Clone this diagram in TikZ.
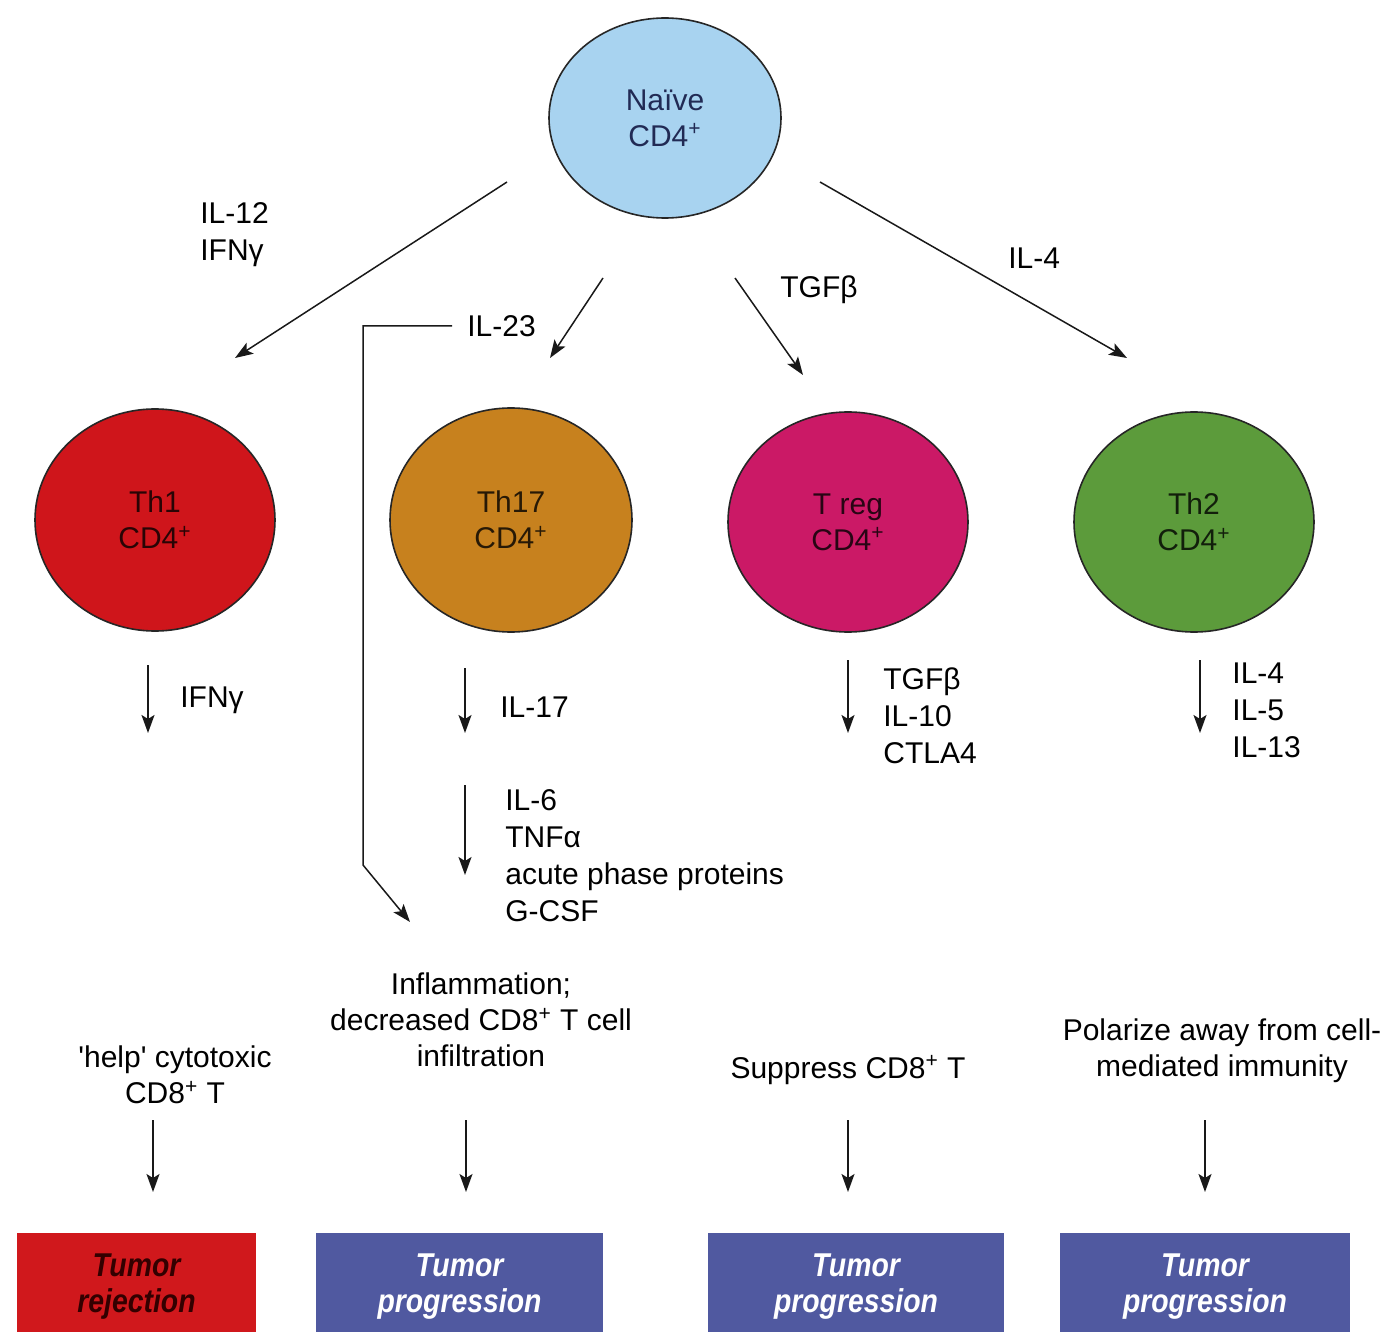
\documentclass[tikz,border=0pt]{standalone}
\usepackage{fontspec}
\setmainfont{Liberation Sans}
\newfontfamily\boxfont[FakeStretch=0.86]{Liberation Sans}
\usetikzlibrary{shapes.geometric,arrows.meta}
\definecolor{naiveblue}{HTML}{A8D3F0}
\definecolor{thonered}{HTML}{CF151B}
\definecolor{thseventeen}{HTML}{C7811E}
\definecolor{tregpink}{HTML}{CB1966}
\definecolor{thtwogreen}{HTML}{5C9B3B}
\definecolor{boxblue}{HTML}{5059A0}
\definecolor{boxred}{HTML}{D0181C}
\begin{document}
\begin{tikzpicture}[x=0.5pt,y=-0.5pt,
  cell/.style={ellipse, draw=black!85, line width=0.8pt, inner sep=0pt, align=center,
    font=\fontsize{15}{18}\selectfont, text opacity=0.8},
  lab/.style={font=\fontsize{15}{18.5}\selectfont, align=left, inner sep=0pt, anchor=west},
  clab/.style={font=\fontsize{15}{18}\selectfont, align=center, inner sep=0pt},
  arr/.style={-{Stealth[length=9pt,width=6.5pt,inset=2pt]}, line width=0.75pt, draw=black!90},
  outbox/.style={rectangle, inner sep=0pt, align=center, minimum height=54pt,
    font=\boxfont\fontsize{16.5}{18}\selectfont\bfseries\itshape}
]
\useasboundingbox (0,0) rectangle (1388,1332);
\fill[white] (0,0) rectangle (1388,1332);

% cells
\node[cell, fill=naiveblue, text=black!70!blue!60!black, minimum width=116pt, minimum height=100pt] (naive) at (665,118) {Naïve\\CD4\textsuperscript{+}};
\node[cell, fill=thonered, minimum width=120pt, minimum height=111pt] (th1) at (155,520) {Th1\\CD4\textsuperscript{+}};
\node[cell, fill=thseventeen, minimum width=121pt, minimum height=112pt] (th17) at (511,520) {Th17\\CD4\textsuperscript{+}};
\node[cell, fill=tregpink, minimum width=120pt, minimum height=110pt] (treg) at (848,522) {T reg\\CD4\textsuperscript{+}};
\node[cell, fill=thtwogreen, minimum width=120pt, minimum height=110pt] (th2) at (1194,522) {Th2\\CD4\textsuperscript{+}};

% arrow end points
\coordinate (a1s) at (507,182); \coordinate (a1e) at (235,358);
\coordinate (a2s) at (603,278); \coordinate (a2e) at (550,358);
\coordinate (a3s) at (735,278); \coordinate (a3e) at (803,375);
\coordinate (a4s) at (820,182); \coordinate (a4e) at (1127,358);
\coordinate (il23s) at (452,326); \coordinate (il23c) at (363,865); \coordinate (il23e) at (410,922);

\draw[arr] (a1s) -- (a1e);
\draw[arr] (a2s) -- (a2e);
\draw[arr] (a3s) -- (a3e);
\draw[arr] (a4s) -- (a4e);
\draw[arr] (il23s) -| (il23c) -- (il23e);

% top labels
\node[lab] (lil12) at (200,235) {IL-12\\IFNγ};
\node[lab] (lil23) at (467,326) {IL-23};
\node[lab] (ltgf) at (780,290) {TGFβ};
\node[lab] (lil4) at (1008,258) {IL-4};

% cytokine arrows
\coordinate (b1s) at (148,665); \coordinate (b1e) at (148,733);
\coordinate (b2s) at (465,668); \coordinate (b2e) at (465,733);
\coordinate (b3s) at (465,785); \coordinate (b3e) at (465,875);
\coordinate (b4s) at (848,660); \coordinate (b4e) at (848,733);
\coordinate (b5s) at (1200,660); \coordinate (b5e) at (1200,733);
\draw[arr] (b1s) -- (b1e);
\draw[arr] (b2s) -- (b2e);
\draw[arr] (b3s) -- (b3e);
\draw[arr] (b4s) -- (b4e);
\draw[arr] (b5s) -- (b5e);

\node[lab] (lifn) at (180,700) {IFNγ};
\node[lab] (lil17) at (500,707) {IL-17};
\node[lab] (lil6) at (505,856) {IL-6\\TNFα\\acute phase proteins\\G-CSF};
\node[lab] (ltreg) at (883,716) {TGFβ\\IL-10\\CTLA4};
\node[lab] (lth2) at (1232,710) {IL-4\\IL-5\\IL-13};

% outcomes
\node[clab] (ohelp) at (175,1075) {\textquotesingle help\textquotesingle\ cytotoxic\\CD8\textsuperscript{+} T};
\node[clab] (oinfl) at (481,1020) {Inflammation;\\decreased CD8\textsuperscript{+} T cell\\infiltration};
\node[clab] (osupp) at (848,1070) {Suppress CD8\textsuperscript{+} T};
\node[clab] (opol) at (1222,1051) {Polarize away from cell-\\mediated immunity};

\coordinate (c1s) at (153,1120); \coordinate (c1e) at (153,1192);
\coordinate (c2s) at (466,1120); \coordinate (c2e) at (466,1192);
\coordinate (c3s) at (848,1120); \coordinate (c3e) at (848,1192);
\coordinate (c4s) at (1205,1120); \coordinate (c4e) at (1205,1192);
\draw[arr] (c1s) -- (c1e);
\draw[arr] (c2s) -- (c2e);
\draw[arr] (c3s) -- (c3e);
\draw[arr] (c4s) -- (c4e);

% result boxes
\node[outbox, fill=boxred, text=black!80!red, minimum width=119.5pt] (r1) at (136.5,1287) {Tumor\\rejection};
\node[outbox, fill=boxblue, text=white, minimum width=143.5pt] (r2) at (459.5,1287) {Tumor\\progression};
\node[outbox, fill=boxblue, text=white, minimum width=148pt] (r3) at (856,1287) {Tumor\\progression};
\node[outbox, fill=boxblue, text=white, minimum width=145pt] (r4) at (1205,1287) {Tumor\\progression};
\end{tikzpicture}
\end{document}
